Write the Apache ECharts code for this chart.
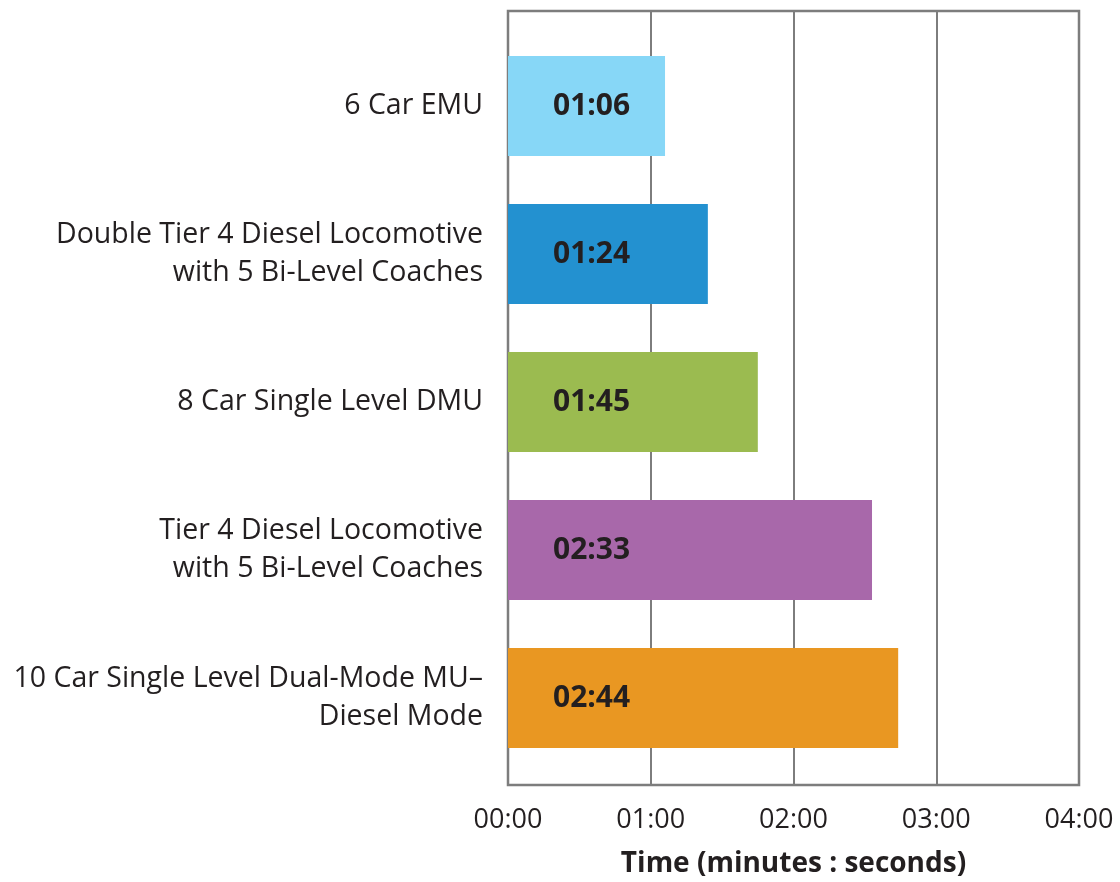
<!DOCTYPE html>
<html>
<head>
<meta charset="utf-8">
<script src="https://cdn.jsdelivr.net/npm/echarts@6/dist/echarts.min.js"></script>
<style>html,body{margin:0;padding:0;background:#fff;}#c{width:1120px;height:882px;}</style>
</head>
<body>
<div id="c"></div>
<script>
const categories = [
  '6 Car EMU',
  'Double Tier 4 Diesel Locomotive\nwith 5 Bi-Level Coaches',
  '8 Car Single Level DMU',
  'Tier 4 Diesel Locomotive\nwith 5 Bi-Level Coaches',
  '10 Car Single Level Dual-Mode MU–\nDiesel Mode'
];
const seconds = [66, 84, 105, 153, 164];
const barColors = ['#87d7f7', '#2391d0', '#9bbb50', '#a868aa', '#e99722'];
const tickLabels = ['00:00', '01:00', '02:00', '03:00', '04:00'];
const axisTitle = 'Time (minutes : seconds)';

function fmt(s) {
  const m = Math.floor(s / 60), r = s % 60;
  return String(m).padStart(2, '0') + ':' + String(r).padStart(2, '0');
}

const FONT = 'Open Sans';
const TXT = '#231f20';
const chart = echarts.init(document.getElementById('c'), null, {renderer: 'canvas'});
chart.setOption({
  animation: false,
  backgroundColor: '#fff',
  grid: [
    {left: 508, right: 41, top: 32, height: 740, show: false, outerBoundsMode: 'none', containLabel: false},
    {left: 508, right: 41, top: 11, height: 774, show: true, borderColor: '#7d7d7d', borderWidth: 2.5, backgroundColor: 'transparent', z: 0, outerBoundsMode: 'none', containLabel: false}
  ],
  xAxis: [
    {gridIndex: 0, type: 'value', min: 0, max: 240, interval: 60, show: false},
    {gridIndex: 1, type: 'value', min: 0, max: 240, interval: 60,
      axisLine: {show: false}, axisTick: {show: false},
      splitLine: {show: true, lineStyle: {color: '#7d7d7d', width: 2}},
      axisLabel: {color: TXT, fontFamily: FONT, fontSize: 27, margin: 22,
        formatter: v => tickLabels[Math.round(v / 60)]},
      name: axisTitle, nameLocation: 'middle', nameGap: 65,
      nameTextStyle: {color: TXT, fontFamily: FONT, fontSize: 28, fontWeight: 'bold', verticalAlign: 'top'}
    }
  ],
  yAxis: [
    {gridIndex: 0, type: 'category', data: categories, inverse: true,
      axisLine: {show: false}, axisTick: {show: false}, splitLine: {show: false},
      axisLabel: {color: TXT, fontFamily: FONT, fontSize: 28.5, margin: 25, align: 'right', lineHeight: 38}
    },
    {gridIndex: 1, type: 'value', show: false, min: 0, max: 1}
  ],
  series: [{
    type: 'bar',
    xAxisIndex: 0, yAxisIndex: 0,
    barWidth: 100,
    z: 3,
    data: seconds.map((v, i) => ({value: v, itemStyle: {color: barColors[i]}})),
    label: {
      show: true, position: [45, '50%'], align: 'left', verticalAlign: 'middle',
      color: TXT, fontFamily: FONT, fontSize: 30, fontWeight: 'bold',
      formatter: p => fmt(p.value)
    }
  }]
});
</script>
</body>
</html>
